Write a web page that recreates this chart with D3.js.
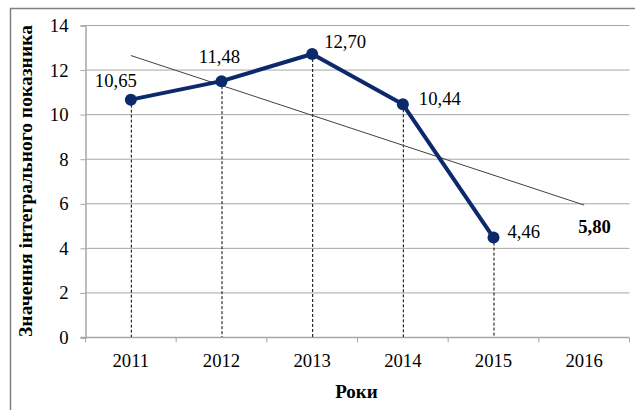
<!DOCTYPE html>
<html>
<head>
<meta charset="utf-8">
<script src="https://cdn.jsdelivr.net/npm/d3@7"></script>
<style>
  body { margin: 0; background: #fff; }
  svg { display: block; }
  text { font-family: "Liberation Serif", "Times New Roman", serif; fill: #000; }
</style>
</head>
<body>
<div id="chart"></div>
<script>
const years = ['2011', '2012', '2013', '2014', '2015', '2016'];
const values = [10.65, 11.48, 12.70, 10.44, 4.46];
const yTicks = [0, 2, 4, 6, 8, 10, 12, 14];
const forecastLabel = '5,80';
const yTitle = 'Значення інтегрального показника';
const xTitle = 'Роки';

// label offsets relative to each point [dx, dy, anchor]
const labelOffsets = [[-15, -12.5, 'middle'], [-2, -18, 'middle'], [12, -6, 'start'], [16, 1, 'start'], [14, 0, 'start']];

const width = 635, height = 410;
const plot = {left: 85.5, right: 629.5, top: 25, bottom: 337};

const svg = d3.select('#chart').append('svg')
  .attr('width', width).attr('height', height);

// outer frame
svg.append('rect')
  .attr('x', 10.5).attr('y', 8.5).attr('width', 640).attr('height', 420)
  .attr('fill', 'none').attr('stroke', '#7f7f7f').attr('stroke-width', 1.5);

const x = d3.scaleBand().domain(years).range([plot.left, plot.right]);
const y = d3.scaleLinear().domain([0, 14]).range([plot.bottom, plot.top]);
const cx = d => x(d) + x.bandwidth() / 2;

// gridlines
svg.append('g').selectAll('line')
  .data(yTicks.filter(t => t > 0))
  .join('line')
  .attr('x1', plot.left).attr('x2', plot.right)
  .attr('y1', d => y(d) + 0.5).attr('y2', d => y(d) + 0.5)
  .attr('stroke', '#a6a6a6').attr('stroke-width', 1);

// y axis
const yAxis = svg.append('g')
  .attr('transform', `translate(${plot.left},0.5)`)
  .call(d3.axisLeft(y).tickValues(yTicks).tickSize(5).tickPadding(12).tickFormat(d3.format('d')));
yAxis.select('.domain').attr('stroke', '#a6a6a6').attr('stroke-width', 1.5);
yAxis.selectAll('.tick line').attr('stroke', '#a6a6a6');
yAxis.selectAll('.tick text').attr('font-size', 18.7).attr('fill', '#000');

// x axis baseline and boundary ticks
const xAxis = svg.append('g').attr('transform', `translate(0,${plot.bottom + 0.5})`);
xAxis.append('line')
  .attr('x1', plot.left - 5).attr('x2', plot.right)
  .attr('stroke', '#a6a6a6').attr('stroke-width', 1.5);
xAxis.selectAll('line.bt')
  .data(years.map(d => x(d)).concat([plot.right]))
  .join('line').attr('class', 'bt')
  .attr('x1', d => d).attr('x2', d => d)
  .attr('y1', 0).attr('y2', 5)
  .attr('stroke', '#a6a6a6');
xAxis.selectAll('text.yr')
  .data(years)
  .join('text').attr('class', 'yr')
  .attr('x', d => cx(d)).attr('y', 29)
  .attr('text-anchor', 'middle').attr('font-size', 18.7)
  .text(d => d);

// drop lines
svg.append('g').selectAll('line')
  .data(values)
  .join('line')
  .attr('x1', (d, i) => cx(years[i]) + 0.5).attr('x2', (d, i) => cx(years[i]) + 0.5)
  .attr('y1', d => y(d)).attr('y2', plot.bottom)
  .attr('stroke', '#000').attr('stroke-width', 1).attr('stroke-dasharray', '3,2');

// linear trend (least squares), extended one period
const xs = values.map((d, i) => i + 1);
const mx = d3.mean(xs), my = d3.mean(values);
const b = d3.sum(xs, (v, i) => (v - mx) * (values[i] - my)) / d3.sum(xs, v => (v - mx) ** 2);
const a = my - b * mx;
const trend = years.map((yr, i) => ({yr, v: a + b * (i + 1)}));
svg.append('path')
  .datum([trend[0], trend[trend.length - 1]])
  .attr('d', d3.line().x(d => cx(d.yr)).y(d => y(d.v)))
  .attr('fill', 'none').attr('stroke', '#404040').attr('stroke-width', 1);

// series
const pts = values.map((v, i) => ({yr: years[i], v}));
svg.append('path')
  .datum(pts)
  .attr('d', d3.line().x(d => cx(d.yr)).y(d => y(d.v)))
  .attr('fill', 'none').attr('stroke', '#0c2a6b').attr('stroke-width', 4).attr('stroke-linejoin', 'round');
svg.append('g').selectAll('circle')
  .data(pts)
  .join('circle')
  .attr('cx', d => cx(d.yr)).attr('cy', d => y(d.v)).attr('r', 6)
  .attr('fill', '#0c2a6b');

// data labels
svg.append('g').selectAll('text')
  .data(pts)
  .join('text')
  .attr('x', (d, i) => cx(d.yr) + labelOffsets[i][0])
  .attr('y', (d, i) => y(d.v) + labelOffsets[i][1])
  .attr('text-anchor', (d, i) => labelOffsets[i][2])
  .attr('font-size', 18.7)
  .text(d => d3.format('.2f')(d.v).replace('.', ','));

const last = trend[trend.length - 1];
svg.append('text')
  .attr('x', cx(last.yr) - 6).attr('y', y(last.v) + 28)
  .attr('font-size', 18.7).attr('font-weight', 'bold')
  .text(forecastLabel);

// axis titles
svg.append('text')
  .attr('x', (plot.left + plot.right) / 2 - 1).attr('y', 398)
  .attr('text-anchor', 'middle').attr('font-size', 19).attr('font-weight', 'bold')
  .text(xTitle);
svg.append('text')
  .attr('transform', `translate(32,${(plot.top + plot.bottom) / 2}) rotate(-90)`)
  .attr('text-anchor', 'middle').attr('font-size', 18).attr('font-weight', 'bold')
  .attr('textLength', 312).attr('lengthAdjust', 'spacingAndGlyphs')
  .text(yTitle);
</script>
</body>
</html>
